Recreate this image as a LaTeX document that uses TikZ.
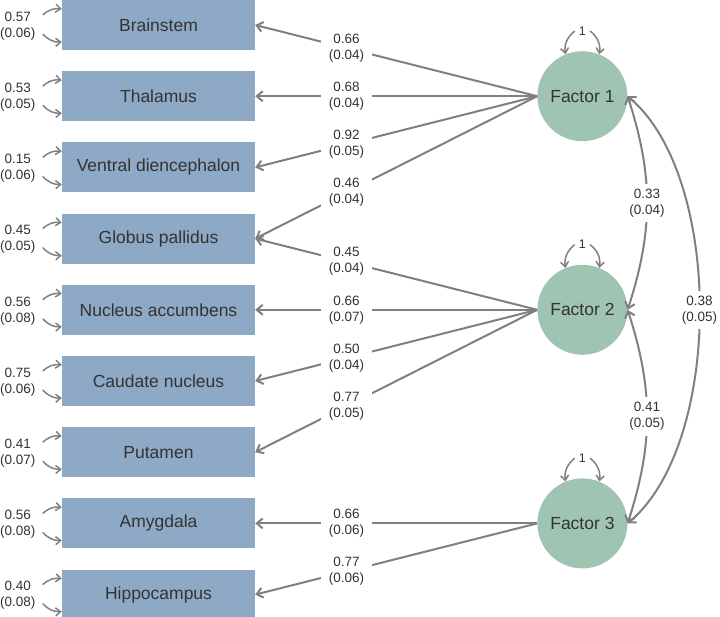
\documentclass[tikz,border=0pt]{standalone}
\usepackage{fontspec}
\setmainfont{Liberation Sans}
\usepackage{tikz}
\usetikzlibrary{arrows.meta,positioning}
\definecolor{boxblue}{HTML}{8EA9C5}
\definecolor{factgreen}{HTML}{A0C4B2}
\definecolor{pathgray}{HTML}{808080}
\definecolor{inkgray}{HTML}{333333}

\begin{document}
\begin{tikzpicture}[
    x=1pt, y=1pt,
    node distance=20.8pt and 282pt,
    every node/.style={text=inkgray},
    indicator/.style={fill=boxblue, minimum width=193pt, minimum height=50pt, inner sep=0pt, font=\fontsize{17.5}{20}\selectfont},
    factor/.style={circle, fill=factgreen, minimum size=90pt, inner sep=0pt, font=\fontsize{17.5}{20}\selectfont},
    est/.style={fill=white, align=center, inner xsep=8pt, inner ysep=1pt, font=\fontsize{13.5}{16}\selectfont},
    covest/.style={est, inner xsep=1pt, inner ysep=5pt},
    errest/.style={align=center, inner sep=0pt, font=\fontsize{13.5}{16}\selectfont},
    unitvar/.style={inner sep=1pt, font=\fontsize{12.5}{14}\selectfont},
    loading/.style={-{Straight Barb[length=6pt,width=10pt]}, line width=2pt, draw=pathgray},
    errvar/.style={-{Straight Barb[length=5pt,width=8pt]}, line width=1.5pt, draw=pathgray},
    covar/.style={{Straight Barb[length=6pt,width=10pt]}-{Straight Barb[length=6pt,width=10pt]}, line width=2pt, draw=pathgray}
]
\useasboundingbox (0,0) rectangle (720,-616);

\node[indicator] (brain) at (158.5,-25) {Brainstem};
\node[indicator, below=of brain] (thal) {Thalamus};
\node[indicator, below=of thal] (vdien) {Ventral diencephalon};
\node[indicator, below=of vdien] (gpal) {Globus pallidus};
\node[indicator, below=of gpal] (nacc) {Nucleus accumbens};
\node[indicator, below=of nacc] (caud) {Caudate nucleus};
\node[indicator, below=of caud] (put) {Putamen};
\node[indicator, below=of put] (amyg) {Amygdala};
\node[indicator, below=of amyg] (hipp) {Hippocampus};

\node[factor, right=of thal] (f1) {Factor 1};
\node[factor, right=of nacc] (f2) {Factor 2};
\node[factor, right=of amyg] (f3) {Factor 3};

\node[unitvar] (one1) at ([yshift=20pt]f1.north) {1};
\node[unitvar] (one2) at ([yshift=20pt]f2.north) {1};
\node[unitvar] (one3) at ([yshift=20pt]f3.north) {1};
\draw[errvar] ([xshift=-3pt]one1.west) to[bend right=30] (f1.112);
\draw[errvar] ([xshift=3pt]one1.east) to[bend left=30] (f1.68);
\draw[errvar] ([xshift=-3pt]one2.west) to[bend right=30] (f2.112);
\draw[errvar] ([xshift=3pt]one2.east) to[bend left=30] (f2.68);
\draw[errvar] ([xshift=-3pt]one3.west) to[bend right=30] (f3.112);
\draw[errvar] ([xshift=3pt]one3.east) to[bend left=30] (f3.68);

\node[errest] (ebrain) at ([xshift=-44pt,yshift=-1pt]brain.west) {0.57\\(0.06)};
\node[errest] (ethal) at ([xshift=-44pt,yshift=-1pt]thal.west) {0.53\\(0.05)};
\node[errest] (evdien) at ([xshift=-44pt,yshift=-1pt]vdien.west) {0.15\\(0.06)};
\node[errest] (egpal) at ([xshift=-44pt,yshift=-1pt]gpal.west) {0.45\\(0.05)};
\node[errest] (enacc) at ([xshift=-44pt,yshift=-1pt]nacc.west) {0.56\\(0.08)};
\node[errest] (ecaud) at ([xshift=-44pt,yshift=-1pt]caud.west) {0.75\\(0.06)};
\node[errest] (eput) at ([xshift=-44pt,yshift=-1pt]put.west) {0.41\\(0.07)};
\node[errest] (eamyg) at ([xshift=-44pt,yshift=-1pt]amyg.west) {0.56\\(0.08)};
\node[errest] (ehipp) at ([xshift=-44pt,yshift=-1pt]hipp.west) {0.40\\(0.08)};

\draw[errvar] ([xshift=-19pt,yshift=10pt]brain.west) to[bend left=25] ([yshift=16pt]brain.west);
\draw[errvar] ([xshift=-19pt,yshift=-9pt]brain.west) to[bend right=25] ([yshift=-17pt]brain.west);
\draw[errvar] ([xshift=-19pt,yshift=10pt]thal.west) to[bend left=25] ([yshift=16pt]thal.west);
\draw[errvar] ([xshift=-19pt,yshift=-9pt]thal.west) to[bend right=25] ([yshift=-17pt]thal.west);
\draw[errvar] ([xshift=-19pt,yshift=10pt]vdien.west) to[bend left=25] ([yshift=16pt]vdien.west);
\draw[errvar] ([xshift=-19pt,yshift=-9pt]vdien.west) to[bend right=25] ([yshift=-17pt]vdien.west);
\draw[errvar] ([xshift=-19pt,yshift=10pt]gpal.west) to[bend left=25] ([yshift=16pt]gpal.west);
\draw[errvar] ([xshift=-19pt,yshift=-9pt]gpal.west) to[bend right=25] ([yshift=-17pt]gpal.west);
\draw[errvar] ([xshift=-19pt,yshift=10pt]nacc.west) to[bend left=25] ([yshift=16pt]nacc.west);
\draw[errvar] ([xshift=-19pt,yshift=-9pt]nacc.west) to[bend right=25] ([yshift=-17pt]nacc.west);
\draw[errvar] ([xshift=-19pt,yshift=10pt]caud.west) to[bend left=25] ([yshift=16pt]caud.west);
\draw[errvar] ([xshift=-19pt,yshift=-9pt]caud.west) to[bend right=25] ([yshift=-17pt]caud.west);
\draw[errvar] ([xshift=-19pt,yshift=10pt]put.west) to[bend left=25] ([yshift=16pt]put.west);
\draw[errvar] ([xshift=-19pt,yshift=-9pt]put.west) to[bend right=25] ([yshift=-17pt]put.west);
\draw[errvar] ([xshift=-19pt,yshift=10pt]amyg.west) to[bend left=25] ([yshift=16pt]amyg.west);
\draw[errvar] ([xshift=-19pt,yshift=-9pt]amyg.west) to[bend right=25] ([yshift=-17pt]amyg.west);
\draw[errvar] ([xshift=-19pt,yshift=10pt]hipp.west) to[bend left=25] ([yshift=16pt]hipp.west);
\draw[errvar] ([xshift=-19pt,yshift=-9pt]hipp.west) to[bend right=25] ([yshift=-17pt]hipp.west);

\draw[loading] (f1.west) -- node[est, pos=0.676] {0.66\\(0.04)} (brain.east);
\draw[loading] (f1.west) -- node[est, pos=0.676] {0.68\\(0.04)} (thal.east);
\draw[loading] (f1.west) -- node[est, pos=0.676] {0.92\\(0.05)} (vdien.east);
\draw[loading] (f1.west) -- node[est, pos=0.676] {0.46\\(0.04)} (gpal.east);
\draw[loading] (f2.west) -- node[est, pos=0.676] {0.45\\(0.04)} (gpal.east);
\draw[loading] (f2.west) -- node[est, pos=0.676] {0.66\\(0.07)} (nacc.east);
\draw[loading] (f2.west) -- node[est, pos=0.676] {0.50\\(0.04)} (caud.east);
\draw[loading] (f2.west) -- node[est, pos=0.676] {0.77\\(0.05)} (put.east);
\draw[loading] (f3.west) -- node[est, pos=0.676] {0.66\\(0.06)} (amyg.east);
\draw[loading] (f3.west) -- node[est, pos=0.676] {0.77\\(0.06)} (hipp.east);

\draw[covar] (f1.east) to[out=-72, in=72] node[covest] {0.33\\(0.04)} (f2.east);
\draw[covar] (f2.east) to[out=-72, in=72] node[covest] {0.41\\(0.05)} (f3.east);
\draw[covar] (f1.east) to[out=-40, in=40, looseness=0.75] node[covest] {0.38\\(0.05)} (f3.east);
\end{tikzpicture}
\end{document}
